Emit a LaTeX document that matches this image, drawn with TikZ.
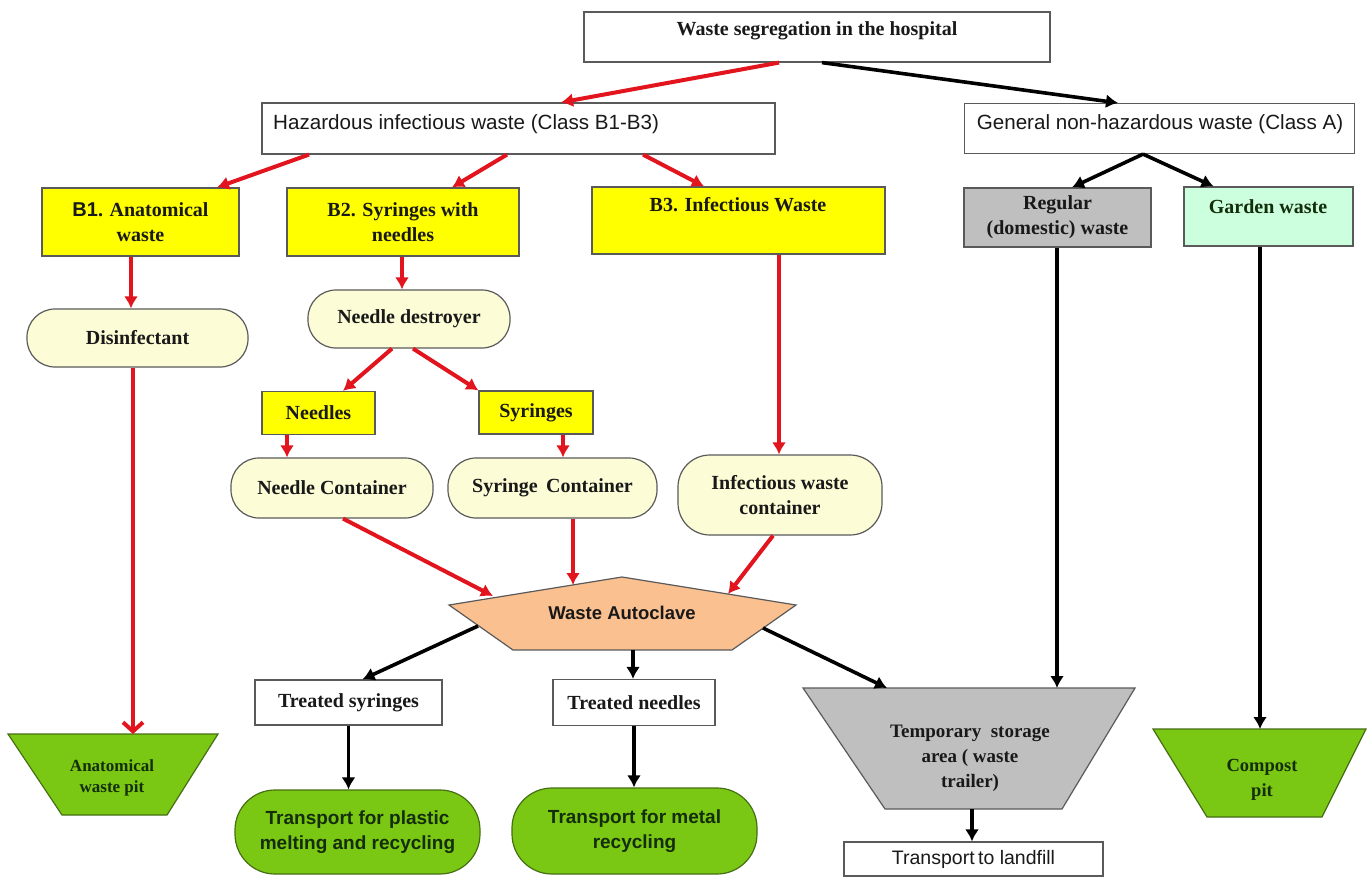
\documentclass[tikz,border=0pt]{standalone}
\usepackage{fontspec}
\setmainfont{Liberation Serif}
\setsansfont{Liberation Sans}
\usetikzlibrary{arrows.meta}
\definecolor{yelF}{RGB}{255,255,0}
\definecolor{creamF}{RGB}{252,252,214}
\definecolor{grayF}{RGB}{191,191,191}
\definecolor{mintF}{RGB}{204,255,221}
\definecolor{peachF}{RGB}{250,192,144}
\definecolor{greenF}{RGB}{122,200,20}
\definecolor{greenB}{RGB}{70,110,20}
\definecolor{arrRed}{RGB}{226,20,30}
\definecolor{bordC}{RGB}{90,90,90}
\definecolor{txtC}{RGB}{25,25,25}
\definecolor{gtxt}{RGB}{20,45,10}
\newcommand\mysz[2]{\fontsize{#1}{#2}\selectfont}
\begin{document}
\begin{tikzpicture}[x=1pt,y=-1pt,
  wbox/.style={draw=bordC, line width=1.2pt, fill=white, inner sep=0pt},
  ybox/.style={wbox, fill=yelF},
  cbox/.style={wbox, fill=creamF, rounded corners=28pt},
  gbox/.style={draw=greenB, line width=1.2pt, fill=greenF, inner sep=0pt, rounded corners=40pt},
  serifB/.style={font=\mysz{20}{25}\bfseries, text=txtC, align=center},
  sansR/.style={font=\sffamily\mysz{20.6}{24}, text=txtC, align=center},
  sansB/.style={font=\sffamily\bfseries\mysz{19}{25}, text=gtxt, align=center},
  redarr/.style={draw=arrRed, line width=4pt, -{Latex[length=12pt,width=14pt]}},
  blkarr/.style={draw=black, line width=3.6pt, -{Latex[length=12pt,width=14pt]}},
  redbarb/.style={draw=arrRed, line width=4pt, -{Straight Barb[length=9pt,width=20pt]}}
]
\useasboundingbox (0,0) rectangle (1367,877);
\fill[white] (0,0) rectangle (1367,877);

% --- top level
\node[wbox, minimum width=466pt, minimum height=50pt] (top) at (817,37) {};
\node[serifB] (topT) at (817,31) {Waste segregation in the hospital};

\node[wbox, minimum width=513pt, minimum height=51pt] (haz) at (518.5,128.5) {};
\node[sansR, anchor=west, inner sep=0pt] (hazT) at (273,124) {Hazardous infectious waste (Class B1-B3)};

\node[wbox, minimum width=390pt, minimum height=50pt] (gen) at (1159.5,128.5) {};
\node[sansR] (genT) at (1160,124) {General non-hazardous waste (Class A)};

% --- B boxes
\node[ybox, minimum width=197pt, minimum height=68pt, serifB] (b1) at (140.5,222) {{\sffamily B1}. Anatomical\\waste};
\node[ybox, minimum width=232pt, minimum height=68pt, serifB] (b2) at (403,222) {B2. Syringes with\\needles};
\node[ybox, minimum width=293pt, minimum height=67pt] (b3) at (738.5,220.5) {};
\node[serifB] (b3T) at (738,205) {B3. Infectious Waste};

\node[wbox, fill=grayF, minimum width=187pt, minimum height=59pt, serifB] (reg) at (1057.5,217.5) {Regular\\(domestic) waste};
\node[wbox, fill=mintF, minimum width=169pt, minimum height=59pt] (gar) at (1268.5,216.5) {};
\node[serifB, text=gtxt] (garT) at (1268,207) {Garden waste};

% --- rounded containers
\node[cbox, minimum width=221pt, minimum height=58pt, serifB] (dis) at (137.5,338) {Disinfectant};
\node[cbox, minimum width=202pt, minimum height=58pt, serifB] (nd) at (409,319) {Needle destroyer};
\node[ybox, minimum width=113pt, minimum height=43pt, serifB] (ndl) at (318.5,413) {Needles};
\node[ybox, minimum width=114pt, minimum height=43pt, serifB] (syr) at (536,412.5) {Syringes};
\node[cbox, minimum width=202pt, minimum height=60pt, serifB] (nc) at (332,488) {Needle Container};
\node[cbox, minimum width=209pt, minimum height=60pt, serifB] (sc) at (552.5,488) {Syringe\, Container};
\node[cbox, minimum width=204pt, minimum height=80pt, rounded corners=32pt, serifB] (iwc) at (780,495) {Infectious waste\\container};

% --- autoclave pentagon
\draw[draw=bordC, line width=1.2pt, fill=peachF]
  (622,577) coordinate (pA) -- (796,605) coordinate (pR) -- (732,650) coordinate (pBR)
  -- (513,650) coordinate (pBL) -- (449,605) coordinate (pL) -- cycle;
\node[font=\sffamily\bfseries\mysz{18.5}{22}, text=txtC] (pentT) at (622,613) {Waste Autoclave};
\coordinate (pIn1) at (493,596);
\coordinate (pIn2) at (573,585);
\coordinate (pIn3) at (728,594);
\coordinate (pOut1) at (478,626);
\coordinate (pOut2) at (633,650);
\coordinate (pOut3) at (763,628);

% --- treated
\node[wbox, minimum width=187pt, minimum height=45pt, serifB] (ts) at (348.5,702.5) {Treated syringes};
\node[wbox, minimum width=162pt, minimum height=46pt, serifB] (tn) at (634,702.5) {Treated needles};

% --- temporary storage trapezoid
\draw[draw=bordC, line width=1.2pt, fill=grayF]
  (803,688) coordinate (tTL) -- (1135,688) coordinate (tTR) -- (1062,809) coordinate (tBR)
  -- (885,809) coordinate (tBL) -- cycle;
\node[font=\mysz{19}{25}\bfseries, text=txtC, align=center] (tT) at (970,758) {Temporary\ \ storage\\area ( waste\\trailer)};
\coordinate (tIn) at (887,688);
\coordinate (tOut) at (972,809);

\node[wbox, minimum width=259pt, minimum height=34pt, font=\sffamily\mysz{19.5}{22}, text=txtC] (lf) at (973.5,859) {Transport\hspace{-2pt} to landfill};

% --- pits
\draw[draw=greenB, line width=1.2pt, fill=greenF]
  (8,734) coordinate (pitTL) -- (218,734) coordinate (pitTR) -- (167,815) -- (62,815) -- cycle;
\node[font=\mysz{17}{21}\bfseries, text=gtxt, align=center] (pitT) at (112,778) {Anatomical\\waste pit};

\draw[draw=greenB, line width=1.2pt, fill=greenF]
  (1153,729) coordinate (cpTL) -- (1366,729) coordinate (cpTR) -- (1322,817) -- (1207,817) -- cycle;
\node[font=\mysz{18.5}{25}\bfseries, text=gtxt, align=center] (cpT) at (1262,780) {Compost\\pit};

% --- transports
\node[gbox, minimum width=245pt, minimum height=84pt, sansB] (pl) at (357.5,832) {Transport for plastic\\melting and recycling};
\node[gbox, minimum width=245pt, minimum height=86pt, sansB] (mt) at (634.5,831) {Transport for metal\\recycling};

% --- connectors
\draw[redarr] ([xshift=-38pt]top.south) -- ([xshift=42.5pt]haz.north);
\draw[blkarr] ([xshift=5pt]top.south) -- ([xshift=-41.5pt]gen.north);
\draw[redarr] ([xshift=-209.5pt]haz.south) -- ([xshift=76.5pt]b1.north);
\draw[redarr] ([xshift=-11.5pt]haz.south) -- ([xshift=49pt]b2.north);
\draw[redarr] ([xshift=124.5pt]haz.south) -- ([xshift=-34.5pt]b3.north);
\draw[blkarr] ([xshift=-16.5pt]gen.south) -- ([xshift=14.5pt]reg.north);
\draw[blkarr] ([xshift=-16.5pt]gen.south) -- ([xshift=-55pt]gar.north);

\draw[redarr] ([xshift=-9.5pt]b1.south) -- ([xshift=-9.5pt]b1.south |- dis.north);
\draw[redarr] ([xshift=-1pt]b2.south) -- ([xshift=-1pt]b2.south |- nd.north);
\draw[redarr] ([xshift=-17pt]nd.south) -- ([xshift=24.5pt]ndl.north);
\draw[redarr] ([xshift=4pt]nd.south) -- (syr.north west);
\draw[redarr] ([xshift=-31.5pt]ndl.south) -- ([xshift=-31.5pt]ndl.south |- nc.north);
\draw[redarr] ([xshift=27pt]syr.south) -- ([xshift=27pt]syr.south |- sc.north);
\draw[redarr] ([xshift=40.5pt]b3.south) -- ([xshift=40.5pt]b3.south |- iwc.north);
\draw[redbarb] ([xshift=-4.5pt]dis.south) -- ([xshift=-4.5pt]dis.south |- pitTL);

\draw[redarr] ([xshift=11pt]nc.south) -- (pIn1);
\draw[redarr] ([xshift=20.5pt]sc.south) -- (pIn2);
\draw[redarr] ([xshift=-7pt]iwc.south) -- (pIn3);

\draw[blkarr] (pOut1) -- ([xshift=14pt]ts.north);
\draw[blkarr] (pOut2) -- (pOut2 |- tn.north);
\draw[blkarr] (pOut3) -- (tIn);
\draw[blkarr] ([xshift=-0.5pt]reg.south) -- ([xshift=-0.5pt]reg.south |- tTL);
\draw[blkarr] ([xshift=-8.5pt]gar.south) -- ([xshift=-8.5pt]gar.south |- cpTL);
\draw[blkarr] (tOut) -- (tOut |- lf.north);
\draw[blkarr] (ts.south) -- (ts.south |- pl.north);
\draw[blkarr] (tn.south) -- (tn.south |- mt.north);
\end{tikzpicture}
\end{document}
